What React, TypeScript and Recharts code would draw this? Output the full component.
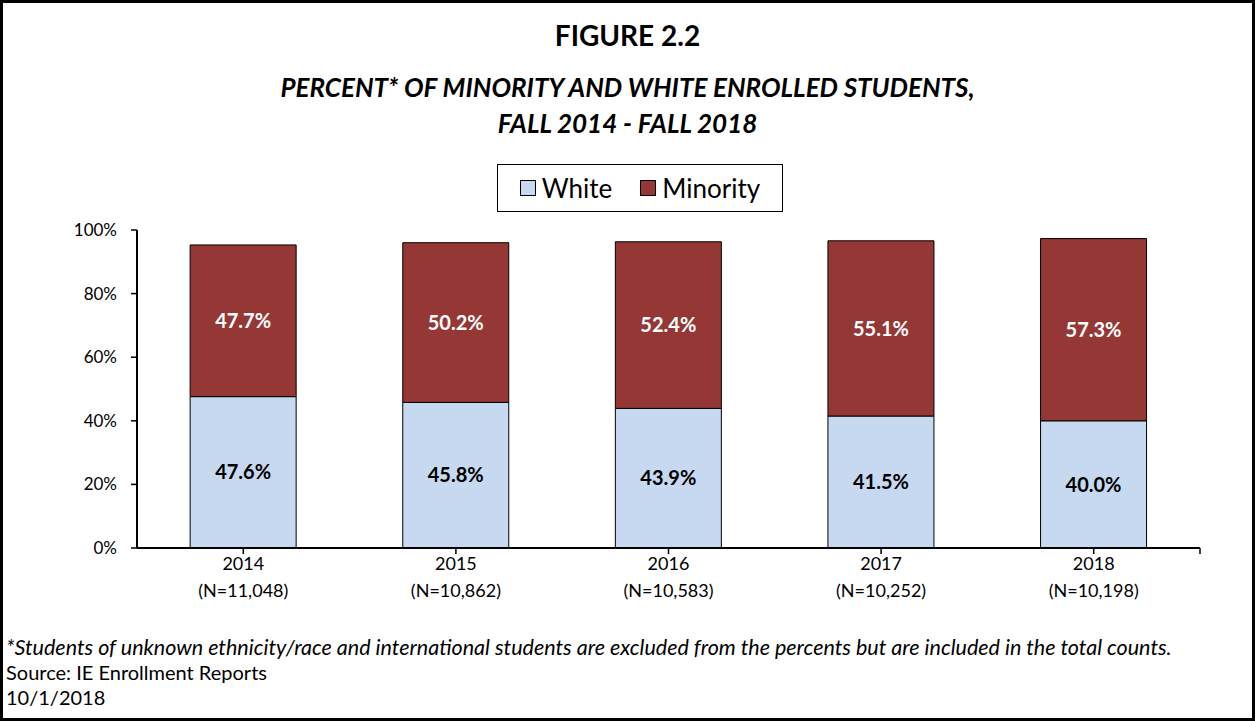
import React from "react";
import {
  Bar,
  BarChart,
  LabelList,
  Legend,
  XAxis,
  YAxis,
} from "recharts";

const years = ["2014", "2015", "2016", "2017", "2018"];
const counts = ["11,048", "10,862", "10,583", "10,252", "10,198"];
const white = [47.6, 45.8, 43.9, 41.5, 40.0];
const minority = [47.7, 50.2, 52.4, 55.1, 57.3];
const yTicks = [0, 20, 40, 60, 80, 100];

const data = years.map((year, i) => ({
  year,
  n: counts[i],
  white: white[i],
  minority: minority[i],
}));

const FONT = "Lato, 'Open Sans', sans-serif";
const WHITE_FILL = "#C6D9F0";
const MINORITY_FILL = "#953735";

const pct = (v: any) => `${Number(v).toFixed(1)}%`;

function YearTick(props: any) {
  const { x, y, payload, index } = props;
  const item = data[index];
  const half = payload && payload.offset ? payload.offset : 0;
  return (
    <g>
      <text
        x={x}
        y={y + 14}
        textAnchor="middle"
        fontFamily={FONT}
        fontSize={18}
        fill="#000"
      >
        {payload.value}
      </text>
      <text
        x={x}
        y={y + 41}
        textAnchor="middle"
        fontFamily={FONT}
        fontSize={18}
        fill="#000"
      >
        (N={item ? item.n : ""})
      </text>
      {index === data.length - 1 && half > 0 && (
        <line
          x1={x + half}
          x2={x + half}
          y1={y - 8}
          y2={y - 2}
          stroke="#000"
          strokeWidth={1.5}
        />
      )}
    </g>
  );
}

function LegendBox() {
  const items = [
    { label: "White", color: WHITE_FILL },
    { label: "Minority", color: MINORITY_FILL },
  ];
  return (
    <div
      style={{
        display: "flex",
        justifyContent: "center",
        alignItems: "center",
        height: "100%",
        gap: 28,
        fontFamily: FONT,
        fontSize: 26,
      }}
    >
      {items.map((it) => (
        <div key={it.label} style={{ display: "flex", alignItems: "center" }}>
          <span
            style={{
              display: "inline-block",
              width: 14,
              height: 14,
              background: it.color,
              border: "1px solid #000",
              marginRight: 6,
            }}
          />
          <span>{it.label}</span>
        </div>
      ))}
    </div>
  );
}

export default function App() {
  return (
    <div
      style={{
        position: "absolute",
        left: 0,
        top: 0,
        width: 1255,
        height: 721,
        boxSizing: "border-box",
        border: "3px solid #000",
        background: "#fff",
        fontFamily: FONT,
        overflow: "hidden",
      }}
    >
      <div
        style={{
          position: "absolute",
          top: 15,
          left: 0,
          width: 1249,
          textAlign: "center",
          fontWeight: 700,
          fontSize: 28,
          lineHeight: "34px",
        }}
      >
        FIGURE 2.2
      </div>
      <div
        style={{
          position: "absolute",
          top: 66,
          left: 0,
          width: 1249,
          textAlign: "center",
          fontWeight: 700,
          fontStyle: "italic",
          fontSize: 26,
          lineHeight: "36px",
        }}
      >
        PERCENT* OF MINORITY AND WHITE ENROLLED STUDENTS,
        <br />
        FALL 2014 - FALL 2018
      </div>

      <div style={{ position: "absolute", left: -3, top: -3 }}>
        <BarChart
          width={1255}
          height={721}
          data={data}
          barCategoryGap="25%"
          margin={{ top: 182, right: 55, bottom: 113, left: 77 }}
        >
          <XAxis
            dataKey="year"
            axisLine={{ stroke: "#000", strokeWidth: 2 }}
            tickLine={{ stroke: "#000", strokeWidth: 1.5 }}
            tickSize={6}
            height={60}
            interval={0}
            tick={<YearTick />}
          />
          <YAxis
            domain={[0, 100]}
            ticks={yTicks}
            tickFormatter={(v) => `${v}%`}
            axisLine={{ stroke: "#000", strokeWidth: 2 }}
            tickLine={{ stroke: "#000", strokeWidth: 1.5 }}
            tickSize={6}
            tickMargin={14}
            width={60}
            tick={{ fill: "#000", fontSize: 17, fontFamily: FONT }}
            allowDataOverflow
          />
          <Legend
            verticalAlign="top"
            content={<LegendBox />}
            wrapperStyle={{
              position: "absolute",
              left: 497,
              top: 164,
              width: 286,
              height: 48,
              boxSizing: "border-box",
              border: "1.5px solid #000",
              background: "#fff",
            }}
          />
          <Bar
            dataKey="white"
            name="White"
            stackId="a"
            fill={WHITE_FILL}
            stroke="#000"
            strokeWidth={1}
            isAnimationActive={false}
          >
            <LabelList
              dataKey="white"
              position="center"
              formatter={pct}
              fill="#000"
              fontWeight={700}
              fontSize={20}
              fontFamily={FONT}
            />
          </Bar>
          <Bar
            dataKey="minority"
            name="Minority"
            stackId="a"
            fill={MINORITY_FILL}
            stroke="#000"
            strokeWidth={1}
            isAnimationActive={false}
          >
            <LabelList
              dataKey="minority"
              position="center"
              formatter={pct}
              fill="#fff"
              fontWeight={700}
              fontSize={20}
              fontFamily={FONT}
            />
          </Bar>
        </BarChart>
      </div>

      <div
        style={{
          position: "absolute",
          left: 3,
          top: 632,
          fontSize: 20,
          lineHeight: "25px",
        }}
      >
        <div style={{ fontStyle: "italic", fontSize: 21.5, whiteSpace: "nowrap" }}>
          *Students of unknown ethnicity/race and international students are
          excluded from the percents but are included in the total counts.
        </div>
        <div>Source: IE Enrollment Reports</div>
        <div>10/1/2018</div>
      </div>
    </div>
  );
}
